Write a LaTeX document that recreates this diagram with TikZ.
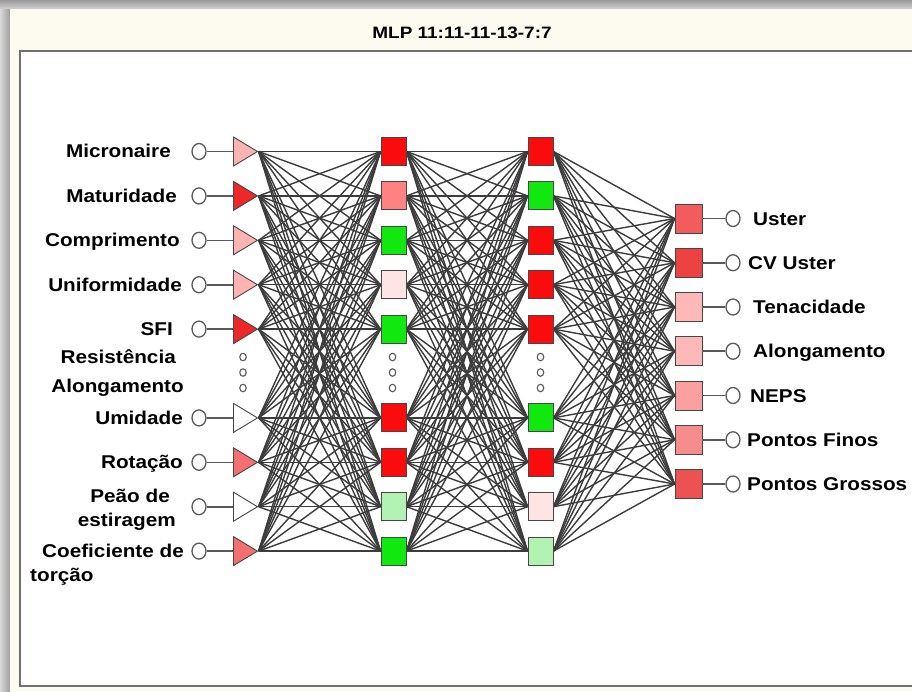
\documentclass[tikz,border=0pt]{standalone}
\usepackage{fontspec}
\setmainfont{Liberation Sans}
\newfontfamily\lblfont[FakeStretch=1.12]{Liberation Sans}
\newfontfamily\ttlfont[FakeStretch=1.15]{Liberation Sans}
\usetikzlibrary{shapes.geometric}
\pgfdeclarelayer{bg}
\pgfdeclarelayer{edges}
\pgfsetlayers{bg,edges,main}

% node fills
\definecolor{hred}{RGB}{250,12,12}
\definecolor{hgreen}{RGB}{16,232,16}
\definecolor{hsalmon}{RGB}{255,130,130}
\definecolor{hblush}{RGB}{255,228,228}
\definecolor{hmint}{RGB}{178,242,178}
\definecolor{tpink}{RGB}{255,180,180}
\definecolor{tred}{RGB}{238,40,40}
\definecolor{tsalmon}{RGB}{242,112,112}
\definecolor{ouster}{RGB}{242,92,92}
\definecolor{ocv}{RGB}{236,66,66}
\definecolor{otena}{RGB}{255,184,184}
\definecolor{oneps}{RGB}{250,160,160}
\definecolor{ofinos}{RGB}{246,140,140}
\definecolor{ogrossos}{RGB}{236,82,82}
% frame and strokes
\definecolor{cream}{RGB}{253,251,240}
\definecolor{framegray}{RGB}{112,112,112}
\definecolor{wirecol}{RGB}{60,60,60}
\definecolor{nodeedge}{RGB}{70,70,70}
\definecolor{iogray}{RGB}{90,90,90}

\begin{document}
\begin{tikzpicture}[x=1pt,y=-1pt,
  lbl/.style={font=\lblfont\bfseries\fontsize{18.5}{20}\selectfont, inner sep=0pt},
  io/.style={ellipse, draw=iogray, line width=1.3pt, fill=white,
    minimum width=14pt, minimum height=16pt, inner sep=0pt},
  dotc/.style={ellipse, draw=iogray, line width=1.1pt, fill=white,
    minimum width=6.5pt, minimum height=7.5pt, inner sep=0pt},
  tri/.style={isosceles triangle, isosceles triangle stretches,
    draw=nodeedge, line width=0.9pt, minimum width=29pt, minimum height=24pt,
    inner sep=0pt},
  hid/.style={rectangle, draw=nodeedge, line width=0.9pt,
    minimum width=25pt, minimum height=28pt, inner sep=0pt},
  outn/.style={hid, minimum width=27pt, minimum height=29pt},
  wire/.style={draw=wirecol, line width=1.4pt},
  stub/.style={draw=iogray, line width=1.6pt}]

\useasboundingbox (0,0) rectangle (912,691);
\clip (0,0) rectangle (912,691);

% window: shadow, panel, white plot area
\begin{pgfonlayer}{bg}
  \fill[black!25] (0,0) rectangle (912,691);
  \shade[top color=black!40, bottom color=black!18] (0,0) rectangle (912,9);
  \shade[left color=black!15, right color=black!38] (0,9) rectangle (10,691);
  \fill[cream] (10,9) rectangle (912,691);
  \filldraw[fill=white, draw=framegray, line width=2pt] (20,51) rectangle (940,686);
\end{pgfonlayer}

\node[font=\ttlfont\bfseries\fontsize{16.5}{18}\selectfont] (title) at (462,33) {MLP 11:11-11-13-7:7};

% input layer: circles and triangles
\foreach \k/\c in {0/tpink,1/tred,2/tpink,3/tpink,4/tred,6/white,7/tsalmon,8/white,9/tsalmon}{
  \pgfmathsetmacro\yy{151.5+44.4*\k}
  \node[io] (i\k) at (199,\yy) {};
  \node[tri, fill=\c, anchor=west] (t\k) at (233,\yy) {};
  \draw[stub] (i\k.east) -- (t\k.west);
}
% first hidden layer
\foreach \k/\c in {0/hred,1/hsalmon,2/hgreen,3/hblush,4/hgreen,6/hred,7/hred,8/hmint,9/hgreen}{
  \pgfmathsetmacro\yy{151.5+44.4*\k}
  \node[hid, fill=\c] (a\k) at (393.5,\yy) {};
}
% second hidden layer
\foreach \k/\c in {0/hred,1/hgreen,2/hred,3/hred,4/hred,6/hgreen,7/hred,8/hblush,9/hmint}{
  \pgfmathsetmacro\yy{151.5+44.4*\k}
  \node[hid, fill=\c] (b\k) at (540.5,\yy) {};
}
% elided units
\foreach \x/\n in {243/di,392.5/da,540.5/db}{
  \foreach \y/\m in {357/1,372.5/2,388/3}{
    \node[dotc] (\n\m) at (\x,\y) {};
  }
}
% output layer
\foreach \k/\c/\t/\lx in {0/ouster/Uster/753,1/ocv/CV Uster/748,2/otena/Tenacidade/753,
    3/otena/Alongamento/753,4/oneps/NEPS/750,5/ofinos/Pontos Finos/747,6/ogrossos/Pontos Grossos/747}{
  \pgfmathsetmacro\yy{218.5+44.25*\k}
  \node[outn, fill=\c] (o\k) at (688.5,\yy) {};
  \node[io] (oc\k) at (733,\yy) {};
  \draw[stub] (o\k.east) -- (oc\k.west);
  \node[lbl, anchor=base west] (ol\k) at (\lx,\yy+6.5) {\t};
}

% input labels
\node[lbl, anchor=base east] (l0) at (171,157.5) {Micronaire};
\node[lbl, anchor=base east] (l1) at (177,202) {Maturidade};
\node[lbl, anchor=base east] (l2) at (180,246.5) {Comprimento};
\node[lbl, anchor=base east] (l3) at (182,291) {Uniformidade};
\node[lbl, anchor=base east] (l4) at (173,335) {SFI};
\node[lbl, anchor=base east] (l5a) at (176,363) {Resistência};
\node[lbl, anchor=base east] (l5b) at (184,392.5) {Alongamento};
\node[lbl, anchor=base east] (l6) at (183,424) {Umidade};
\node[lbl, anchor=base east] (l7) at (183,468.5) {Rotação};
\node[lbl, anchor=base east] (l8a) at (170,502) {Peão de};
\node[lbl, anchor=base east] (l8b) at (176,526) {estiragem};
\node[lbl, anchor=base east] (l9a) at (184,557.5) {Coeficiente de};
\node[lbl, anchor=base west] (l9b) at (30,581) {torção};

% weights
\begin{pgfonlayer}{edges}
\foreach \i in {0,1,2,3,4,6,7,8,9}{
  \foreach \j in {0,1,2,3,4,6,7,8,9}{
    \draw[wire] (t\i.apex) -- (a\j.west);
    \draw[wire] (a\i.east) -- (b\j.west);
  }
  \foreach \j in {0,...,6}{
    \draw[wire] (b\i.east) -- (o\j.west);
  }
}
\end{pgfonlayer}
\end{tikzpicture}
\end{document}
